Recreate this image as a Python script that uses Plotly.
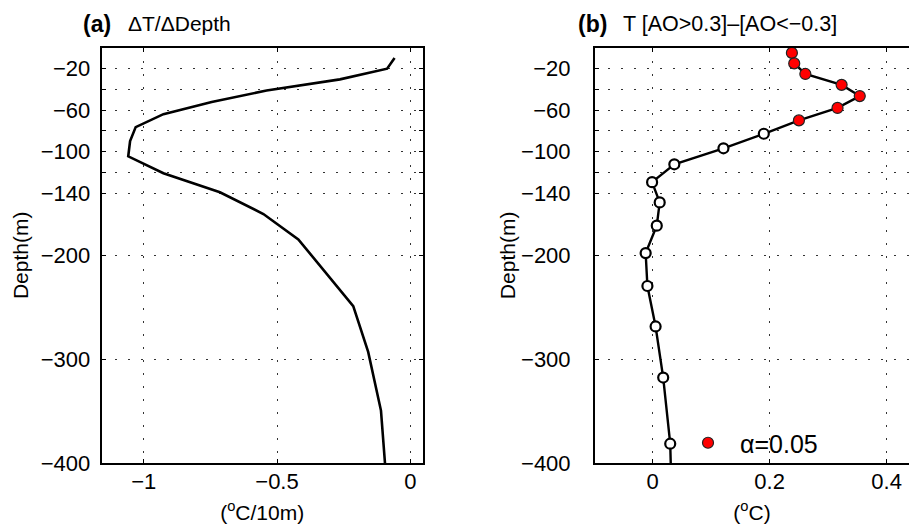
import plotly.graph_objects as go

W, H = 909, 528

# ---------------- data ----------------
# Panel (a): vertical temperature gradient at mid-layer depths
grad_depth = [-10.0, -20.2, -30.5, -41.2, -52.3, -64.0, -76.5, -89.9, -104.6, -120.9,
              -139.2, -160.2, -184.6, -213.6, -249.0, -293.0, -349.5, -423.6]
grad_value = [-0.059, -0.087, -0.264, -0.539, -0.745, -0.926, -1.030, -1.051, -1.058, -0.926,
              -0.714, -0.551, -0.420, -0.327, -0.214, -0.158, -0.110, -0.088]

# Panel (b): temperature difference [AO>0.3]-[AO<-0.3] at model levels
lev_depth = [-5.0, -15.1, -25.3, -35.8, -46.6, -58.0, -70.0, -82.9, -96.9, -112.3,
             -129.5, -149.0, -171.4, -197.8, -229.5, -268.5, -317.7, -381.4, -465.9]
temp_diff = [0.238, 0.242, 0.261, 0.323, 0.354, 0.316, 0.250, 0.190, 0.121, 0.037,
             -0.001, 0.012, 0.007, -0.012, -0.009, 0.005, 0.018, 0.030, 0.034]
significant = [True, True, True, True, True, True, True, False, False, False,
               False, False, False, False, False, False, False, False, False]

ytick_vals = [-20, -60, -100, -140, -200, -300, -400]
ytick_text = ["\u221220", "\u221260", "\u2212100", "\u2212140", "\u2212200", "\u2212300", "\u2212400"]
ytick_minor = [-40, -80, -120]
xa_ticks = [-1, -0.5, 0]
xa_text = ["\u22121", "\u22120.5", "0"]
xb_ticks = [0, 0.2, 0.4]
xb_text = ["0", "0.2", "0.4"]

FONT = "Liberation Sans, Arial, Helvetica, sans-serif"


def px_x(p):
    return p / W


def px_y(p):
    return 1 - p / H


fig = go.Figure()

fig.add_trace(go.Scatter(x=grad_value, y=grad_depth, mode="lines",
                         line=dict(color="black", width=2.6),
                         xaxis="x", yaxis="y", showlegend=False))

fig.add_trace(go.Scatter(x=temp_diff, y=lev_depth, mode="lines",
                         line=dict(color="black", width=2.4),
                         xaxis="x2", yaxis="y2", showlegend=False))

ns_x = [v for v, s in zip(temp_diff, significant) if not s]
ns_y = [d for d, s in zip(lev_depth, significant) if not s]
sg_x = [v for v, s in zip(temp_diff, significant) if s]
sg_y = [d for d, s in zip(lev_depth, significant) if s]

fig.add_trace(go.Scatter(x=ns_x, y=ns_y, mode="markers",
                         marker=dict(symbol="circle", size=10, color="white",
                                     line=dict(color="black", width=2.2)),
                         xaxis="x2", yaxis="y2", showlegend=False))
fig.add_trace(go.Scatter(x=sg_x, y=sg_y, mode="markers", name="\u03b1=0.05",
                         marker=dict(symbol="circle", size=11, color="#ff0000",
                                     line=dict(color="#222222", width=1.2)),
                         xaxis="x2", yaxis="y2", showlegend=True))

GRIDC = "#333333"
GDASH = "2px,11px"
grid = dict(showgrid=True, gridcolor=GRIDC, gridwidth=1, griddash=GDASH)
tickf = dict(family=FONT, size=22, color="black")
common_axis = dict(showline=True, linecolor="black", linewidth=2, zeroline=False,
                   ticks="inside", ticklen=4, tickwidth=1, tickcolor="black",
                   tickfont=tickf, automargin=False, **grid)
yminor = dict(tickvals=ytick_minor, ticks="inside", ticklen=4, tickwidth=1, tickcolor="black",
              showgrid=True, gridcolor=GRIDC, gridwidth=1, griddash=GDASH)
titlef = dict(family=FONT, size=21, color="black")

fig.update_layout(
    width=W, height=H,
    margin=dict(l=0, r=0, t=0, b=0, autoexpand=False),
    paper_bgcolor="white", plot_bgcolor="white",
    font=dict(family=FONT, size=20, color="black"),
    xaxis=dict(domain=[px_x(101.7), px_x(422.7)], range=[-1.1575, 0.0465],
               tickvals=xa_ticks, ticktext=xa_text, mirror="ticks", anchor="y",
               ticklabelstandoff=-2,
               title=dict(text="(<sup>o</sup>C/10m)", font=titlef, standoff=12),
               **common_axis),
    yaxis=dict(domain=[px_y(463), px_y(47.7)], range=[-400, 0],
               tickvals=ytick_vals, ticktext=ytick_text, mirror="ticks", anchor="x",
               ticklabelstandoff=5, minor=yminor,
               title=dict(text="Depth(m)", font=titlef, standoff=6),
               **common_axis),
    xaxis2=dict(domain=[px_x(595), 1.0], range=[-0.0986, 0.4382],
                tickvals=xb_ticks, ticktext=xb_text, mirror="ticks", anchor="y2",
                ticklabelstandoff=-2,
                title=dict(text="(<sup>o</sup>C)", font=titlef, standoff=12),
                **common_axis),
    yaxis2=dict(domain=[px_y(463), px_y(47.7)], range=[-400, 0],
                tickvals=ytick_vals, ticktext=ytick_text, mirror=False, anchor="x2",
                ticklabelstandoff=18, minor=yminor,
                title=dict(text="Depth(m)", font=titlef, standoff=0),
                **common_axis),
    legend=dict(x=px_x(676), y=px_y(443), xanchor="left", yanchor="middle",
                bgcolor="rgba(0,0,0,0)", borderwidth=0, itemwidth=54,
                font=dict(family=FONT, size=25, color="black")),
    showlegend=True,
)

annots = [
    dict(text="<b>(a)</b>", x=81, size=23),
    dict(text="\u0394T/\u0394Depth", x=126, size=21),
    dict(text="<b>(b)</b>", x=576, size=23),
    dict(text="T [AO&gt;0.3]\u2013[AO&lt;\u22120.3]", x=621, size=21.5),
]
for a in annots:
    fig.add_annotation(text=a["text"], x=px_x(a["x"]), y=px_y(24), xref="paper", yref="paper",
                       xanchor="left", yanchor="middle", showarrow=False,
                       font=dict(family=FONT, color="black", size=a["size"]))

# remove the browser's default 8px body margin so the 909x528 figure fills the window exactly
fig.write_html("out.html",
               config={"displayModeBar": False},
               post_script="document.body.style.margin='0';"
                           "document.documentElement.style.overflow='hidden';")
